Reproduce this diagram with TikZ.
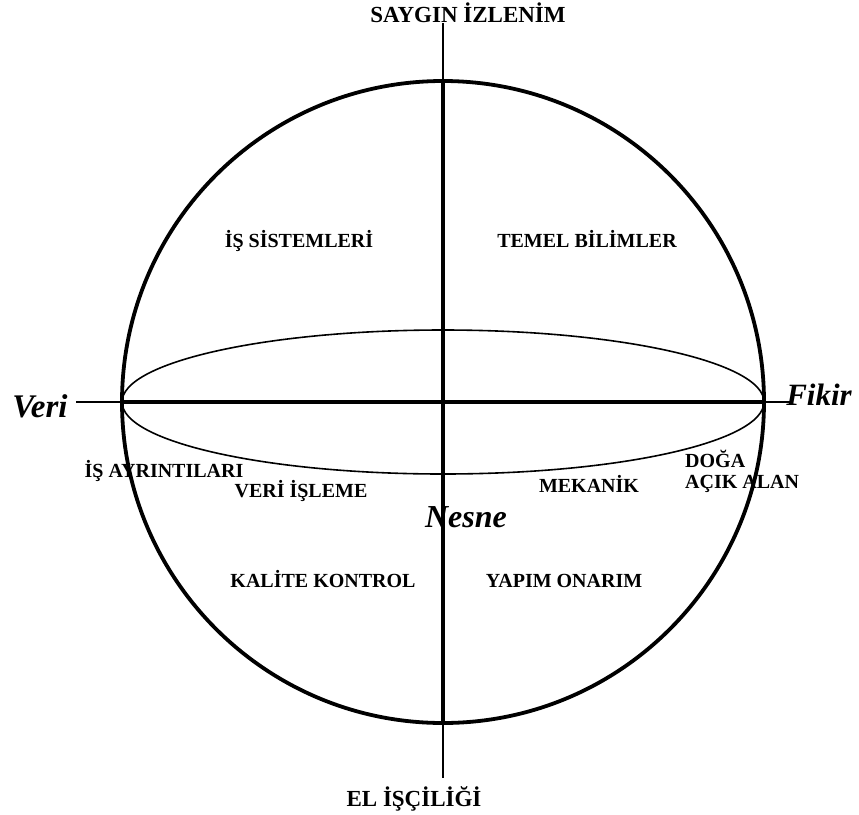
\documentclass[tikz,border=0pt]{standalone}
\usepackage{fontspec}
\setmainfont{Liberation Serif}
\begin{document}
\begin{tikzpicture}[x=1pt,y=-1pt,
  lbl/.style={font=\fontsize{20}{22}\selectfont\bfseries, inner sep=0pt, anchor=base},
  pole/.style={font=\fontsize{23}{25}\selectfont\bfseries, inner sep=0pt, anchor=base},
  axlbl/.style={font=\fontsize{32}{34}\selectfont\bfseries\itshape, inner sep=0pt, anchor=base},
  outer/.style={line width=2.8pt},
  inner/.style={line width=4pt}]
\useasboundingbox (0,0) rectangle (859,814);
% geometry
\coordinate (C) at (443,402);
\coordinate (top) at (443,23);
\coordinate (bot) at (443,778);
\coordinate (ctop) at (443,81);
\coordinate (cbot) at (443,723);
\coordinate (left) at (76,402);
\coordinate (right) at (792,402);
\coordinate (cl) at (122,402);
\coordinate (cr) at (764,402);
% axes
\draw[outer] (top) -- (ctop);
\draw[outer] (cbot) -- (bot);
\draw[inner] (ctop) -- (cbot);
\draw[outer] (left) -- (cl);
\draw[outer] (cr) -- (right);
\draw[inner] (cl) -- (cr);
% sphere
\draw[line width=1.6pt] (C) ellipse [x radius=321, y radius=72];
\draw[line width=3.8pt] (C) circle [radius=321];
% labels
\node[pole] (sayg) at (468,22) {SAYGIN İZLENİM};
\node[pole] (el) at (414,806) {EL İŞÇİLİĞİ};
\node[lbl] (iss) at (299,247) {İŞ SİSTEMLERİ};
\node[lbl] (tem) at (587,247) {TEMEL BİLİMLER};
\node[lbl] (isa) at (164,477) {İŞ AYRINTILARI};
\node[lbl] (veri2) at (301,497) {VERİ İŞLEME};
\node[lbl] (mek) at (589,492) {MEKANİK};
\node[lbl,anchor=base west] (doga) at (685,467) {DOĞA};
\node[lbl,anchor=base west] (acik) at (685,488) {AÇIK ALAN};
\node[lbl] (kal) at (323,587) {KALİTE KONTROL};
\node[lbl] (yap) at (564,587) {YAPIM ONARIM};
\node[axlbl,font=\fontsize{33}{35}\selectfont\bfseries\itshape] (veri) at (40,417) {Veri};
\node[axlbl,font=\fontsize{31}{33}\selectfont\bfseries\itshape] (fikir) at (819,405) {Fikir};
\node[axlbl] (nesne) at (466,527) {Nesne};
\end{tikzpicture}
\end{document}
